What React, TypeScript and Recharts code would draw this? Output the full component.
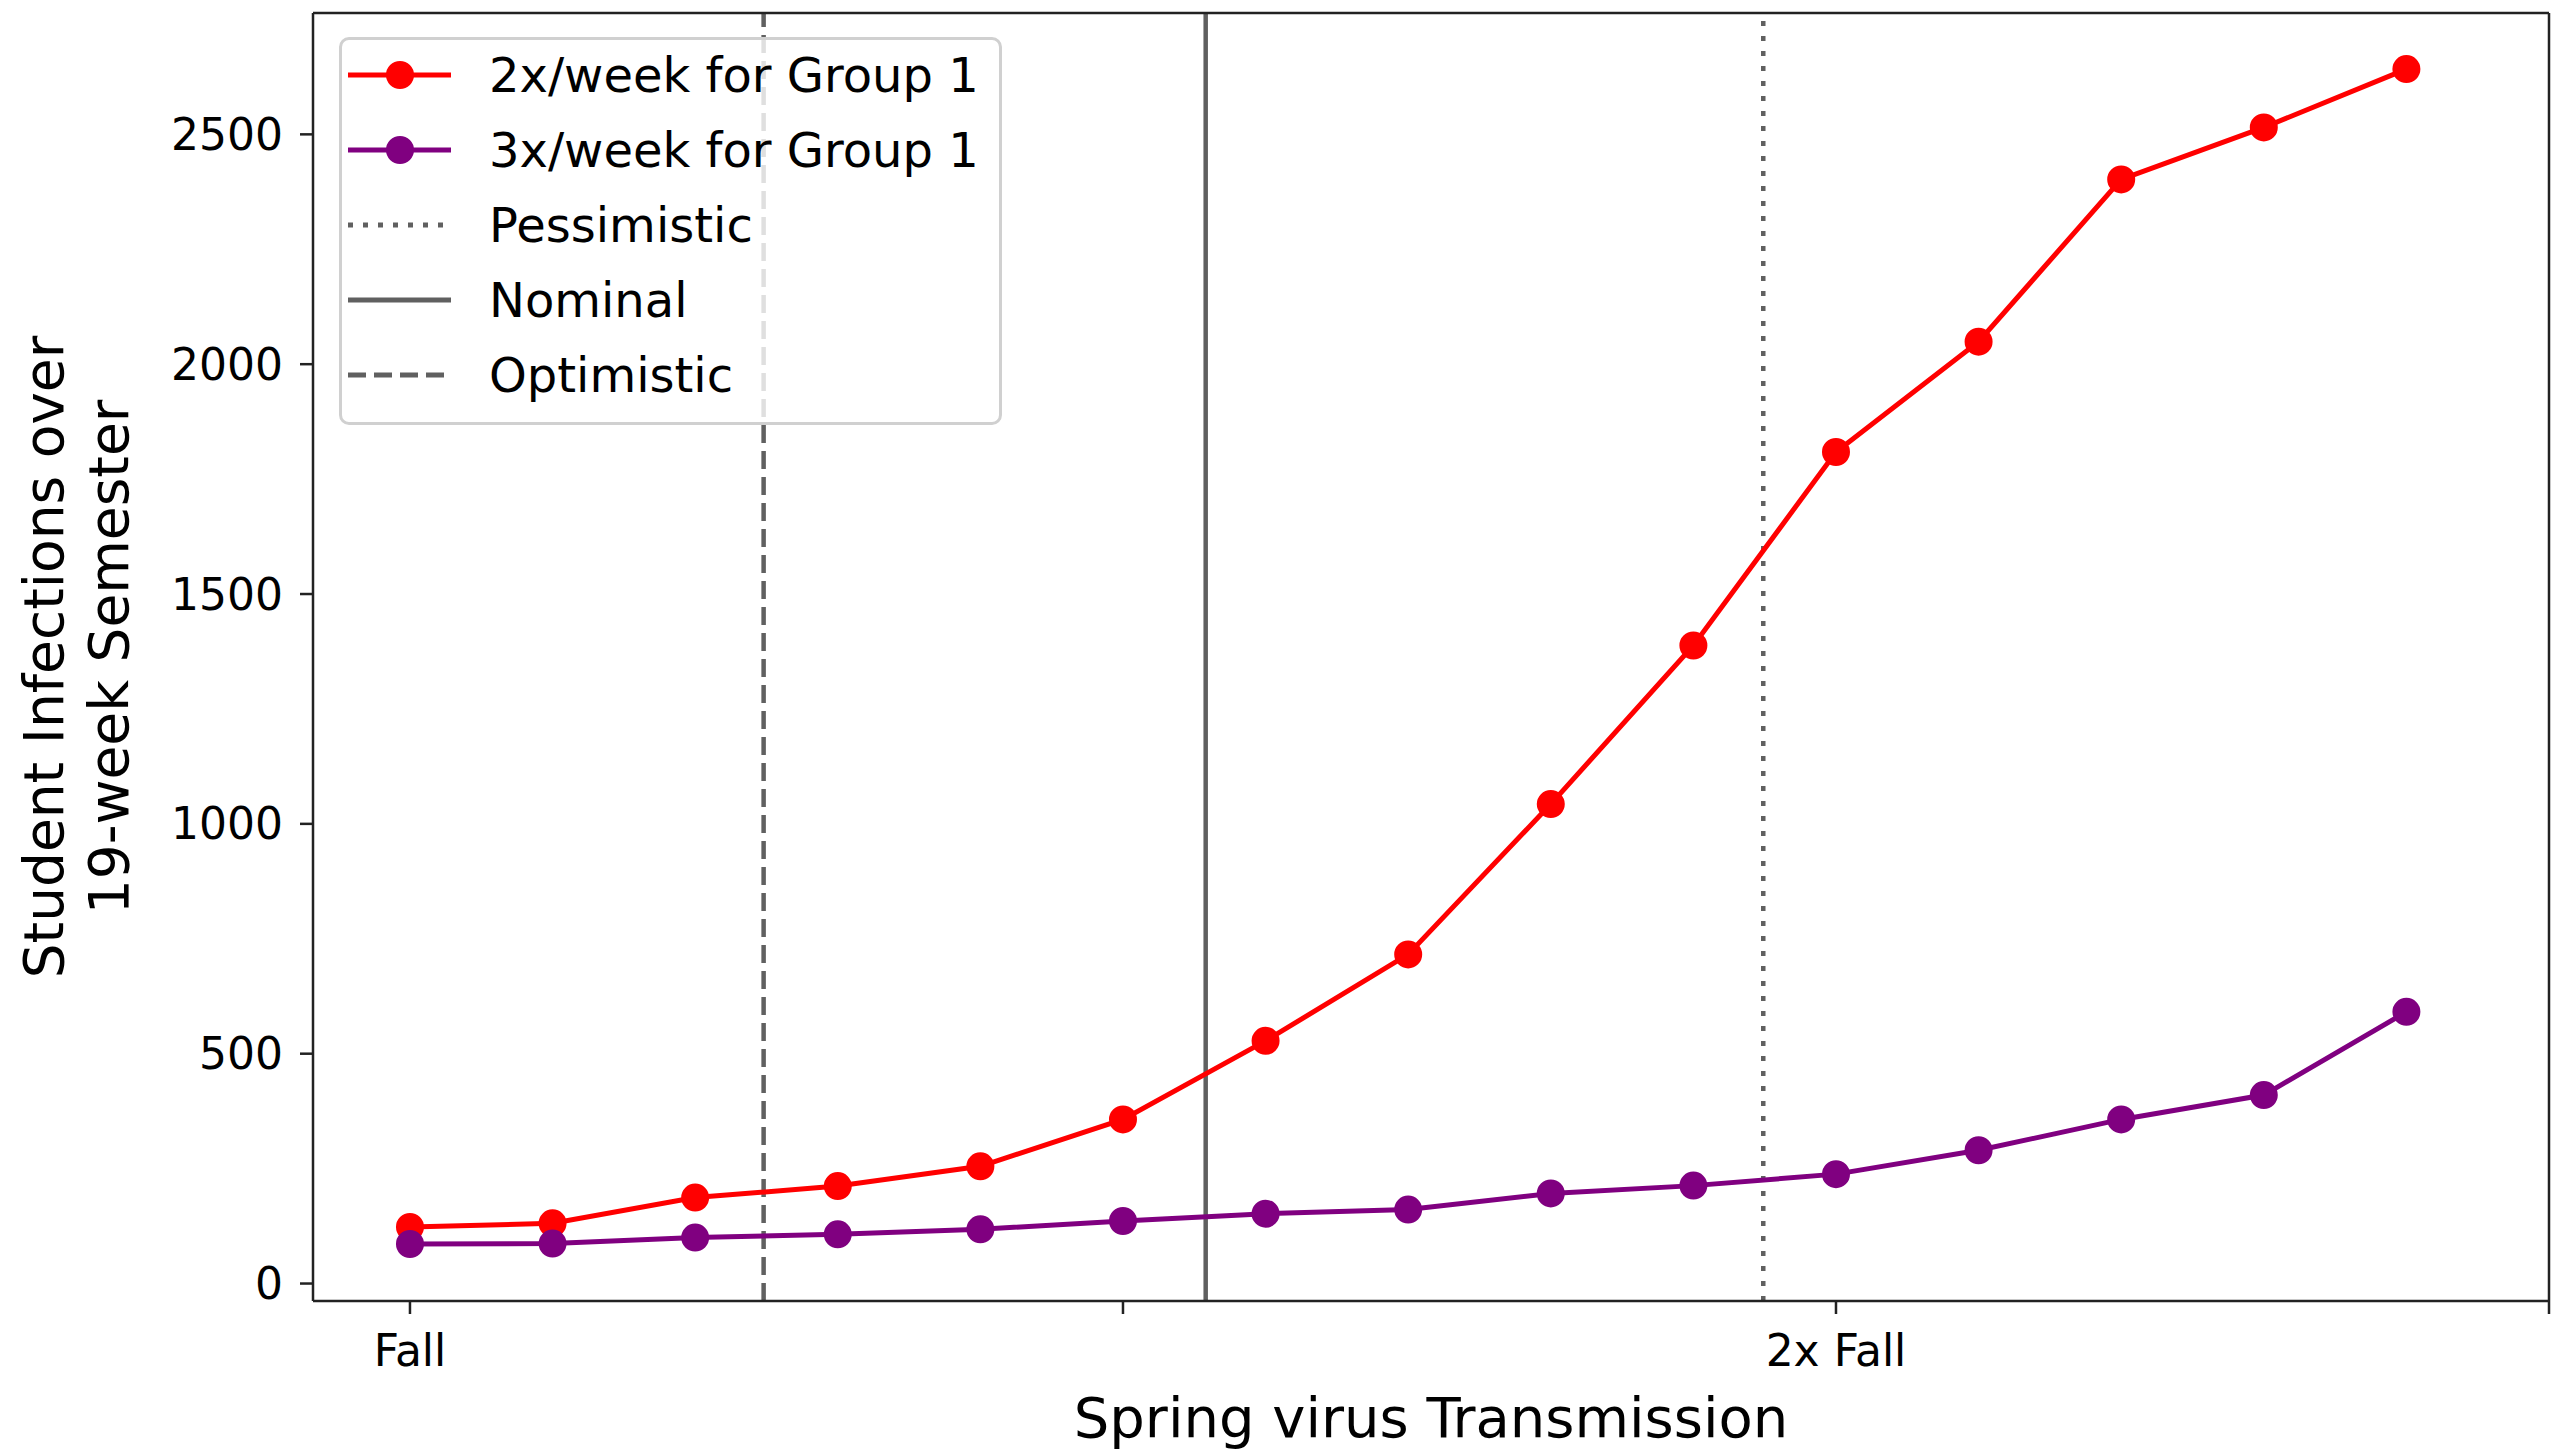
import React from 'react';
import { LineChart, Line, XAxis, YAxis, ReferenceLine } from 'recharts';

// spring transmission, relative to fall (1 = Fall, 2 = 2x Fall)
const transmission = [1.0, 1.1, 1.2, 1.3, 1.4, 1.5, 1.6, 1.7, 1.8, 1.9, 2.0, 2.1, 2.2, 2.3, 2.4];
const twicePerWeek = [123, 131, 187, 212, 255, 357, 528, 716, 1043, 1388, 1809, 2049, 2402, 2515, 2642];
const thricePerWeek = [86, 87, 100, 107, 118, 136, 152, 161, 196, 213, 238, 290, 357, 410, 591];

const seriesNames = ['2x/week for Group 1', '3x/week for Group 1'];
const scenarioNames = ['Pessimistic', 'Nominal', 'Optimistic'];
const scenarioValues = [1.949, 1.558, 1.248];

const xTicks = [1, 1.5, 2, 2.5];
const xTickLabels = ['Fall', '', '2x Fall', ''];
const yTicks = [0, 500, 1000, 1500, 2000, 2500];

const X_DOMAIN: [number, number] = [0.932, 2.5];
const Y_DOMAIN: [number, number] = [-38, 2764];

const data = transmission.map((x, i) => ({
  x,
  twice: twicePerWeek[i],
  thrice: thricePerWeek[i]
}));

const FONT = '"DejaVu Sans", sans-serif';
const seriesColors = ['#ff0000', '#800080'];
const scenarioDash = ['5 10', undefined, '18 8'];
const refColor = '#606060';
const axisColor = '#222222';

function YLabel(props: any) {
  const vb = props.viewBox || { x: 0, y: 13, width: 313, height: 1288 };
  const cy = vb.y + vb.height / 2;
  const x1 = vb.x + 63;
  const x2 = vb.x + 128;
  return (
    <g fontFamily={FONT} fontSize={55} fill="#000">
      <text x={x1} y={cy} textAnchor="middle" transform={`rotate(-90 ${x1} ${cy})`}>
        Student Infections over
      </text>
      <text x={x2} y={cy} textAnchor="middle" transform={`rotate(-90 ${x2} ${cy})`}>
        19-week Semester
      </text>
    </g>
  );
}

function LegendBox() {
  const items = [
    ...seriesNames.map((name, i) => ({ name, color: seriesColors[i], dash: undefined as string | undefined, marker: true })),
    ...scenarioNames.map((name, i) => ({ name, color: refColor, dash: scenarioDash[i], marker: false }))
  ];
  return (
    <div
      style={{
        position: 'absolute',
        left: 339,
        top: 37,
        width: 663,
        height: 388,
        boxSizing: 'border-box',
        background: 'rgba(255,255,255,0.8)',
        border: '3px solid #d0d0d0',
        borderRadius: 10
      }}
    >
      <svg width={657} height={382} style={{ position: 'absolute', left: 0, top: 0 }}>
        {items.map((it, i) => {
          const cy = 35 + i * 75;
          return (
            <g key={it.name}>
              <line x1={6} x2={109} y1={cy} y2={cy} stroke={it.color} strokeWidth={5} strokeDasharray={it.dash} />
              {it.marker && <circle cx={58} cy={cy} r={12.5} fill={it.color} stroke={it.color} strokeWidth={3} />}
              <text x={147} y={cy} dy="0.355em" fontFamily={FONT} fontSize={48} fill="#000">
                {it.name}
              </text>
            </g>
          );
        })}
      </svg>
    </div>
  );
}

export default function App() {
  return (
    <div
      style={{
        position: 'absolute',
        left: 0,
        top: 0,
        width: 2564,
        height: 1451,
        background: '#fff',
        fontFamily: FONT
      }}
    >
      <LineChart width={2564} height={1451} data={data} margin={{ top: 13, right: 15, bottom: 0, left: 0 }}>
        <XAxis
          dataKey="x"
          type="number"
          domain={X_DOMAIN}
          allowDataOverflow
          ticks={xTicks}
          interval={0}
          tickFormatter={(v: number) => xTickLabels[xTicks.indexOf(v)] ?? ''}
          height={150}
          tickSize={13}
          tickMargin={21}
          axisLine={{ stroke: axisColor, strokeWidth: 2.5 }}
          tickLine={{ stroke: axisColor, strokeWidth: 2.5 }}
          tick={{ fontSize: 44, fill: '#000', fontFamily: FONT }}
          label={{
            value: 'Spring virus Transmission',
            position: 'insideBottom',
            offset: 14,
            fontSize: 56,
            fill: '#000',
            fontFamily: FONT
          }}
        />
        <YAxis
          type="number"
          domain={Y_DOMAIN}
          allowDataOverflow
          ticks={yTicks}
          interval={0}
          width={313}
          tickSize={13}
          tickMargin={17}
          axisLine={{ stroke: axisColor, strokeWidth: 2.5 }}
          tickLine={{ stroke: axisColor, strokeWidth: 2.5 }}
          tick={{ fontSize: 44, fill: '#000', fontFamily: FONT }}
          label={(props: any) => <YLabel {...props} />}
        />
        {scenarioValues.map((v, i) => (
          <ReferenceLine
            key={scenarioNames[i]}
            x={v}
            stroke={refColor}
            strokeWidth={4.5}
            strokeDasharray={scenarioDash[i]}
          />
        ))}
        <ReferenceLine y={Y_DOMAIN[1]} stroke={axisColor} strokeWidth={2.5} />
        <ReferenceLine x={X_DOMAIN[1]} stroke={axisColor} strokeWidth={2.5} />
        <Line
          dataKey="twice"
          name={seriesNames[0]}
          stroke={seriesColors[0]}
          strokeWidth={5}
          dot={{ r: 12.5, fill: seriesColors[0], stroke: seriesColors[0], strokeWidth: 3 }}
          isAnimationActive={false}
        />
        <Line
          dataKey="thrice"
          name={seriesNames[1]}
          stroke={seriesColors[1]}
          strokeWidth={5}
          dot={{ r: 12.5, fill: seriesColors[1], stroke: seriesColors[1], strokeWidth: 3 }}
          isAnimationActive={false}
        />
      </LineChart>
      <LegendBox />
    </div>
  );
}
